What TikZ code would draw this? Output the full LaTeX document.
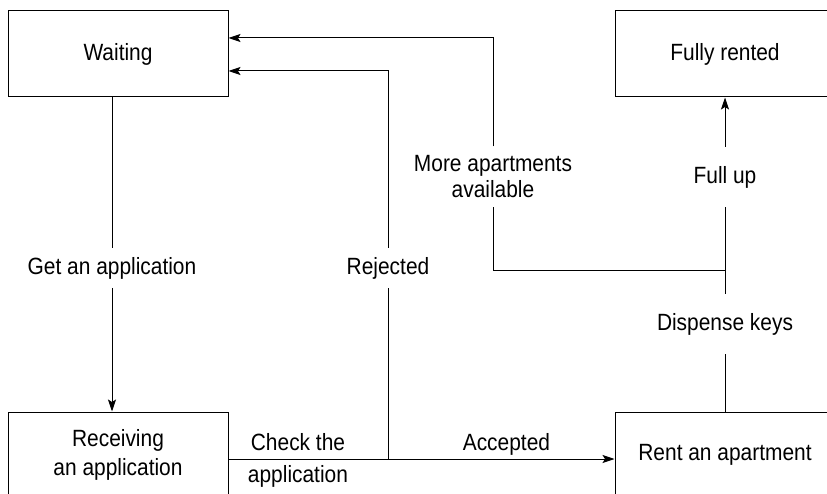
\documentclass[tikz,border=0pt]{standalone}
\usepackage{fontspec}
\setmainfont{Liberation Sans}[FakeStretch=0.89]
\usetikzlibrary{arrows.meta}

\begin{document}
\begin{tikzpicture}[x=1pt, y=-1pt, line width=1pt,
  state/.style={draw, minimum width=220pt, minimum height=86pt, align=center, font=\fontsize{23.5}{29}\selectfont},
  cut/.style={inner sep=0pt, align=center, font=\fontsize{23.5}{26}\selectfont},
  tag/.style={inner sep=6pt, text depth=0.25em, font=\fontsize{23.5}{26}\selectfont},
  >={Stealth[length=12pt, width=8pt, inset=2.5pt]}]
  \useasboundingbox (0,0) rectangle (827,494);
  \clip (0,0) rectangle (827,494);
  % states
  \node[state] (waiting) at (118,54) {Waiting};
  \node[state] (rented) at (725,54) {Fully rented};
  \node[state] (receiving) at (118,455) {Receiving\\an application};
  \node[state] (rent) at (725,455) {Rent an apartment};
  % labels cutting the lines
  \node[cut, minimum height=39pt] (getapp) at (112,268) {Get an application};
  \node[cut, minimum height=39pt] (rejected) at (388,268) {Rejected};
  \node[cut, minimum height=60pt] (more) at (493,177) {More apartments\\available};
  \node[cut, minimum height=59pt] (fullup) at (725,177) {Full up};
  \node[cut, minimum height=59pt] (keys) at (725,324) {Dispense keys};
  \coordinate (waithigh) at ([yshift=16pt]waiting.east);
  \coordinate (waitlow) at ([yshift=-17pt]waiting.east);
  \coordinate (chk) at (388,459);
  \coordinate (fork) at (725,271);
  % transitions
  \draw[->] (waiting.south -| getapp) -- (getapp) -- (receiving.north -| getapp);
  \draw[->] (receiving.east |- chk) -- node[tag, above, pos=0.18] (check) {Check the}
    node[tag, below, pos=0.18] (checkb) {application}
    node[tag, above, pos=0.72] (accepted) {Accepted} (rent.west |- chk);
  \draw[->] (chk) -- (rejected) -- (rejected |- waitlow) -- (waitlow);
  \draw[->] (rent) -- (keys) -- (fullup) -- (rented);
  \draw[->] (fork) -- (fork -| more) -- (more) -- (more |- waithigh) -- (waithigh);
\end{tikzpicture}
\end{document}
